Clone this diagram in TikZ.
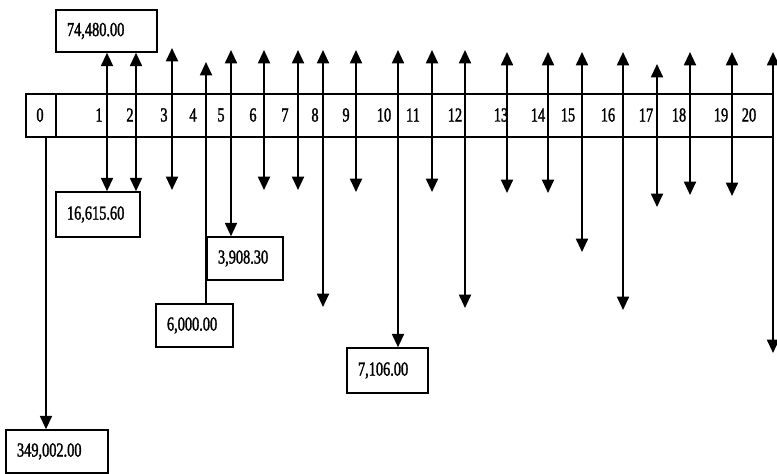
\documentclass[tikz,border=0pt]{standalone}
\usepackage{fontspec}
\setmainfont{Liberation Serif}[FakeStretch=0.72, FakeBold=1.5]
\usetikzlibrary{arrows.meta,positioning}
\tikzset{
  band/.style={rectangle, draw=black, line width=1.4pt,
               minimum width=224.1mm, minimum height=12.9mm, inner sep=0pt},
  valbox/.style={rectangle, draw=black, line width=1.3pt, align=left,
                 inner xsep=3.3mm, inner ysep=0pt,
                 font=\fontsize{17}{19}\selectfont},
  per/.style={inner sep=0pt, font=\fontsize{17}{19}\selectfont},
  cellline/.style={line width=1.4pt},
  dblarr/.style={{Triangle[length=4mm, width=3.6mm]}-{Triangle[length=4mm, width=3.6mm]}, line width=1.6pt},
  downarr/.style={-{Triangle[length=4mm, width=3.6mm]}, line width=1.6pt},
}
\begin{document}
\begin{tikzpicture}[x=0.3mm, y=-0.3mm]
  \useasboundingbox (0,0) rectangle (777,474);
  % time line with the periods
  \node[band] (band) at (399.5,115.5) {};
  \coordinate (c0) at (56,115);
  \draw[cellline] (band.north -| c0) -- (band.south -| c0);
  \foreach \k/\lx in {0/40, 1/99, 2/130, 3/164, 4/193, 5/221, 6/253, 7/285,
                      8/315, 9/346, 10/384, 11/413, 12/455, 13/501, 14/538,
                      15/568, 16/608, 17/646, 18/679, 19/721, 20/749}
    \node[per] (p\k) at (\lx,115) {\k};
  % cash flow boxes
  \node[valbox, text width=23.7mm, minimum height=12.6mm] (v74480)  at (106.5,31)   {74,480.00};
  \node[valbox, text width=18.6mm, minimum height=13.5mm] (v16615)  at (98,214.5)   {16,615.60};
  \node[valbox, text width=16.2mm, minimum height=12.9mm] (v3908)   at (245,258.5)  {3,908.30};
  \node[valbox, text width=16.5mm, minimum height=12.9mm] (v6000)   at (194.5,325.5) {6,000.00};
  \node[valbox, text width=17.7mm, minimum height=13.5mm] (v7106)   at (387.5,370.5) {7,106.00};
  \node[valbox, text width=24mm,   minimum height=12.9mm] (v349002) at (57,451.5)   {349,002.00};
  % free arrows (up tip / down tip)
  \foreach \k/\x/\t/\b in {3/172/48/190, 6/264/50/190, 7/298/50/190, 8/323/50/307,
                           9/356/50/192, 11/432/50/192, 12/465/50/308, 13/507/52/193,
                           14/548/52/193, 15/582/52/252, 16/623/52/310, 17/657/64/207,
                           18/690/52/195, 19/732/52/196, 20/773/52/353}
  {
    \coordinate (t\k) at (\x,\t);
    \coordinate (b\k) at (\x,\b);
    \draw[dblarr] (t\k) -- (b\k);
  }
  % arrows ending on boxes
  \coordinate (x0) at (46,0);
  \coordinate (x1) at (107,0);
  \coordinate (x2) at (136,0);
  \coordinate (t4) at (206,62);
  \coordinate (t5) at (231,50);
  \coordinate (t10) at (398,50);
  \draw[dblarr] (v74480.south -| x1) -- (v16615.north -| x1);
  \draw[dblarr] (v74480.south -| x2) -- (v16615.north -| x2);
  \draw[downarr] (v6000.north -| t4) -- (t4);
  \draw[dblarr] (t5) -- (v3908.north -| t5);
  \draw[dblarr] (t10) -- (v7106.north -| t10);
  \draw[downarr] (band.south -| x0) -- (v349002.north -| x0);
\end{tikzpicture}
\end{document}
